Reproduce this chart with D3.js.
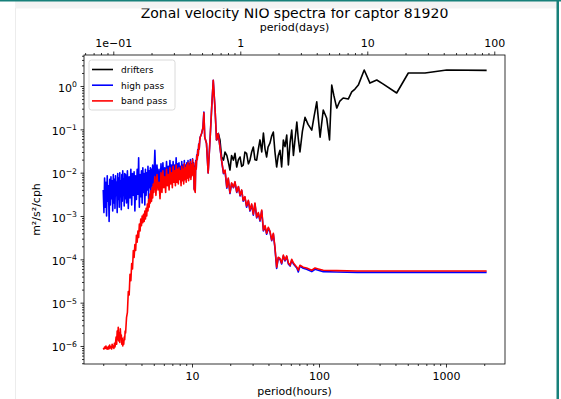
<!DOCTYPE html>
<html>
<head>
<meta charset="utf-8">
<script src="https://cdn.jsdelivr.net/npm/d3@7"></script>
<style>
  body { margin: 0; background: #fff; }
  svg { display: block; font-family: "DejaVu Sans", sans-serif; }
</style>
</head>
<body>
<svg id="chart" width="561" height="399"></svg>
<script>
// spectra (period in hours, PSD in m²/s²/cph)
const filterPeriods = [
  2, 2.025, 2.05, 2.075, 2.1, 2.125, 2.15, 2.175, 2.2, 2.225,
  2.25, 2.275, 2.3, 2.325, 2.35, 2.375, 2.4, 2.425, 2.45, 2.475,
  2.5, 2.525, 2.55, 2.575, 2.6, 2.625, 2.65, 2.675, 2.7, 2.725,
  2.75, 2.775, 2.8, 2.825, 2.85, 2.875, 2.9, 2.925, 2.95, 2.975,
  3, 3.05, 3.1, 3.15, 3.2, 3.25, 3.3, 3.35, 3.4, 3.45,
  3.5, 3.55, 3.6, 3.65, 3.7, 3.75, 3.8, 3.85, 3.9, 3.95,
  4, 4.05, 4.1, 4.15, 4.2, 4.25, 4.3, 4.35, 4.4, 4.45,
  4.5, 4.55, 4.6, 4.65, 4.7, 4.75, 4.8, 4.85, 4.9, 4.95,
  5, 5.1, 5.2, 5.3, 5.4, 5.5, 5.6, 5.7, 5.8, 5.9,
  6, 6.1, 6.2, 6.3, 6.4, 6.5, 6.6, 6.7, 6.8, 6.9,
  7, 7.1, 7.2, 7.3, 7.4, 7.5, 7.6, 7.7, 7.8, 7.9,
  8, 8.1, 8.2, 8.3, 8.4, 8.5, 8.6, 8.7, 8.8, 8.9,
  9, 9.1, 9.2, 9.3, 9.4, 9.5, 9.6, 9.7, 9.8, 9.9,
  10, 10.1, 10.2, 10.3, 10.4, 10.5, 10.6, 10.7, 10.8, 10.9,
  11, 11.1, 11.2, 11.3, 11.4, 11.5,
  11.6, 11.9, 12.2, 12.4, 12.6, 13.0, 13.4, 13.9, 14.3, 14.7,
  15.2, 15.6, 16.1, 16.6, 17.1, 17.7, 18.2, 18.8, 19.3, 19.9,
  20.5, 21.2, 21.8, 22.5, 23.2, 23.9, 24.6, 25.3, 26.1, 26.9,
  27.8, 28.6, 29.5, 30.4, 31.3, 32.3, 33.3, 34.3, 35.4, 36.5,
  37.6, 38.7, 39.9, 41.1, 42.4, 43.7, 45.0, 46.4, 47.8, 49.3,
  50.8, 52.4, 54.0, 55.7, 57.4, 59.2, 61.0, 62.9, 66.9, 68.7,
  70.8, 75.2, 79.9, 87.7, 93.0, 98.7, 108, 138, 200, 400,
  800, 1500, 2090
];

const highPassValues = [
  4e-3, 1.2e-3, 7.5e-3, 1.6e-3, 6e-3, 1.0e-3, 8.5e-3, 2.2e-3, 5e-3, 7.5e-4,
  7e-3, 1.8e-3, 8e-3, 2.5e-3, 6.5e-3, 1.3e-3, 9e-3, 2e-3, 7e-3, 1.5e-3,
  8.5e-3, 3e-3, 6e-3, 1.2e-3, 9.5e-3, 2.4e-3, 7.5e-3, 1.6e-3, 1.0e-2, 2.8e-3,
  6.5e-3, 1.4e-3, 9e-3, 2.2e-3, 1.1e-2, 3e-3, 7e-3, 1.7e-3, 9.5e-3, 2.5e-3,
  9e-3, 2e-3, 1.1e-2, 1.5e-3, 8e-3, 2.6e-3, 1.2e-2, 1.8e-3, 9.5e-3, 3e-3,
  1.05e-2, 1.3e-3, 8.5e-3, 2.4e-3, 1.2e-2, 3.2e-3, 2.2e-2, 1.6e-3, 9e-3, 2.8e-3,
  1.1e-2, 2e-3, 1.3e-2, 3.5e-3, 9.5e-3, 1.8e-3, 1.2e-2, 3e-3, 1.0e-2, 4e-3,
  1.4e-2, 2.5e-3, 1.1e-2, 4.5e-3, 1.3e-2, 3e-3, 1.2e-2, 5e-3, 1.5e-2, 4e-3,
  6e-3, 3.3e-2, 5e-3, 1.5e-2, 6e-3, 1.2e-2, 4e-3, 1.6e-2, 5e-3, 1.7e-2,
  6e-3, 1.3e-2, 5e-3, 1.8e-2, 7e-3, 1.4e-2, 5.5e-3, 1.9e-2, 7e-3, 1.5e-2,
  6e-3, 1.8e-2, 7.5e-3, 1.5e-2, 6e-3, 2.2e-2, 7e-3, 1.6e-2, 6.5e-3, 1.7e-2,
  8e-3, 1.4e-2, 6e-3, 1.8e-2, 7.5e-3, 1.5e-2, 6.5e-3, 1.9e-2, 8e-3, 1.5e-2,
  7e-3, 1.7e-2, 8.5e-3, 1.9e-2, 7.5e-3, 1.6e-2, 9e-3, 2.0e-2, 8e-3, 1.6e-2,
  9e-3, 2.1e-2, 9.5e-3, 1.7e-2, 4.2e-3, 1.4e-2, 3.7e-3, 1.9e-2, 1.25e-2, 2.6e-2,
  2.1e-2, 3.4e-2, 2.6e-2, 4.6e-2, 3.6e-2, 5.6e-2,
  0.066, 0.08, 0.11, 0.25, 0.066, 0.048, 0.0098, 0.066, 0.33, 1.35,
  0.28, 0.057, 0.08, 0.039, 0.019, 0.0095, 0.011, 0.0044, 0.0072, 0.0033,
  0.0056, 0.0045, 0.006, 0.0035, 0.0047, 0.0029, 0.0039, 0.0022, 0.0027, 0.0016,
  0.0022, 0.0013, 0.0018, 0.00105, 0.0019, 0.0009, 0.00115, 0.00076, 0.0013, 0.00045,
  0.00057, 0.00038, 0.00052, 0.00043, 0.00027, 0.00038, 0.00018, 6.2e-5, 1.08e-4, 1.0e-4,
  7.8e-5, 1.2e-4, 9.2e-5, 1.15e-4, 7.8e-5, 7.0e-5, 9.5e-5, 7.8e-5, 6.3e-5, 5.1e-5,
  7.0e-5, 6.2e-5, 5.9e-5, 5.2e-5, 5.9e-5, 5.6e-5, 5.2e-5, 5.1e-5, 5.0e-5, 5.0e-5,
  5.0e-5, 5.0e-5, 5.0e-5
];

const bandPassValues = [
  9e-7, 8.5e-7, 9.5e-7, 8.8e-7, 1.0e-6, 8.6e-7, 9.2e-7, 8.4e-7, 9.8e-7, 8.7e-7,
  1.05e-6, 9e-7, 9.6e-7, 8.5e-7, 1.1e-6, 9.2e-7, 1.0e-6, 8.8e-7, 1.15e-6, 9.5e-7,
  1.2e-6, 1.6e-6, 1.1e-6, 2.2e-6, 1.4e-6, 2.7e-6, 1.3e-6, 2.0e-6, 1.2e-6, 2.5e-6,
  1.5e-6, 1.8e-6, 1.1e-6, 1.5e-6, 1.0e-6, 1.3e-6, 1.1e-6, 1.6e-6, 1.4e-6, 2.2e-6,
  2.0e-6, 4.5e-6, 6e-6, 1.8e-5, 1.5e-5, 4.5e-5, 3.2e-5, 8e-5, 6e-5, 1.6e-4,
  1.1e-4, 2.2e-4, 1.6e-4, 3.6e-4, 2.5e-4, 4.5e-4, 3.2e-4, 6.5e-4, 4.5e-4, 8.5e-4,
  6e-4, 1.0e-3, 7e-4, 1.1e-3, 7.5e-4, 1.3e-3, 8.5e-4, 1.5e-3, 1.0e-3, 1.9e-3,
  1.3e-3, 2.4e-3, 1.6e-3, 3.2e-3, 2.0e-3, 3.8e-3, 2.2e-3, 4.5e-3, 2.6e-3, 5.5e-3,
  3.5e-3, 8e-3, 3e-3, 9e-3, 4e-3, 6e-3, 2.5e-3, 1.0e-2, 3.5e-3, 1.1e-2,
  4.5e-3, 8e-3, 3.5e-3, 1.2e-2, 5e-3, 9e-3, 4e-3, 1.3e-2, 5.5e-3, 1.0e-2,
  4.5e-3, 1.4e-2, 6e-3, 1.1e-2, 5e-3, 1.5e-2, 6e-3, 1.2e-2, 5.5e-3, 1.3e-2,
  7e-3, 1.1e-2, 5e-3, 1.4e-2, 6.5e-3, 1.2e-2, 5.5e-3, 1.6e-2, 7e-3, 1.3e-2,
  6e-3, 1.5e-2, 7.5e-3, 1.7e-2, 6.5e-3, 1.4e-2, 8e-3, 1.8e-2, 7e-3, 1.5e-2,
  8.5e-3, 2.0e-2, 9e-3, 1.6e-2, 4e-3, 1.3e-2, 3.5e-3, 1.8e-2, 1.2e-2, 2.5e-2,
  2.0e-2, 3.3e-2, 2.5e-2, 4.5e-2, 3.5e-2, 5.5e-2,
  0.066, 0.08, 0.11, 0.24, 0.066, 0.048, 0.0098, 0.066, 0.33, 1.35,
  0.28, 0.057, 0.08, 0.039, 0.0195, 0.0098, 0.0115, 0.0046, 0.0075, 0.0034,
  0.0058, 0.0046, 0.0062, 0.0036, 0.0048, 0.0030, 0.0040, 0.0023, 0.0028, 0.0017,
  0.0023, 0.00137, 0.0019, 0.0011, 0.0020, 0.00094, 0.0012, 0.0008, 0.00137, 0.00047,
  0.0006, 0.0004, 0.00055, 0.00045, 0.00028, 0.0004, 0.00019, 6.6e-5, 1.12e-4, 1.05e-4,
  8.2e-5, 1.25e-4, 9.6e-5, 1.2e-4, 8.2e-5, 7.3e-5, 1.0e-4, 8.2e-5, 6.6e-5, 5.6e-5,
  7.3e-5, 6.6e-5, 6.3e-5, 5.6e-5, 6.3e-5, 6.0e-5, 5.6e-5, 5.5e-5, 5.4e-5, 5.4e-5,
  5.4e-5, 5.4e-5, 5.4e-5
];

const drifterPeriods = [
  15.6, 16.1, 16.6, 17.1, 17.7, 18.2, 18.8, 19.3, 19.9, 20.5,
  21.2, 21.8, 22.5, 23.2, 23.9, 24.6, 25.3, 26.1, 26.9, 27.8,
  28.6, 29.5, 30.4, 31.3, 32.3, 33.3, 34.3, 35.4, 36.5, 37.6,
  38.7, 39.7, 41.1, 42.4, 43.7, 45.0, 46.4, 47.8, 49.3, 50.8,
  52.4, 54.0, 55.7, 57.4, 59.2, 61.0, 62.9, 64.8, 66.9, 68.7,
  70.8, 74.0, 77.6, 82.0, 87.7, 91.5, 96.0, 102, 108, 115,
  121, 126, 131, 138, 146, 155, 170, 181, 192, 204,
  227, 252, 285, 321, 409, 505, 684, 1013, 2090
];

const drifterValues = [
  0.057, 0.08, 0.057, 0.023, 0.0195, 0.03, 0.025, 0.018, 0.0115, 0.025,
  0.0195, 0.028, 0.0135, 0.02, 0.023, 0.014, 0.015, 0.03, 0.028, 0.016,
  0.0195, 0.03, 0.039, 0.02, 0.0195, 0.035, 0.057, 0.03, 0.082, 0.035,
  0.023, 0.039, 0.048, 0.07, 0.087, 0.03, 0.0135, 0.025, 0.033, 0.0135,
  0.057, 0.04, 0.074, 0.015, 0.05, 0.096, 0.025, 0.06, 0.148, 0.06,
  0.030, 0.09, 0.19, 0.13, 0.096, 0.2, 0.43, 0.066, 0.28, 0.18,
  0.057, 1.05, 0.6, 0.31, 0.45, 0.53, 0.50, 0.73, 0.85, 1.05,
  2.34, 1.17, 1.38, 1.11, 0.69, 2.0, 2.0, 2.34, 2.3
];

const seriesNames = ["drifters", "high pass", "band pass"];
const seriesColors = ["#000000", "#0000ff", "#ff0000"];

const hourTicks = [10, 100, 1000];
const dayTicks = [0.1, 1, 10, 100];
const dayTickLabels = ["1e\u221201", "1", "10", "100"];
const powerTicks = [0, -1, -2, -3, -4, -5, -6];

const svg = d3.select("#chart"),
      width = 561,
      height = 399;
const plot = { left: 84, right: 505, top: 55, bottom: 364 };

const x = d3.scaleLog().domain([1.411, 2915]).range([plot.left, plot.right]);
const xDays = d3.scaleLog().domain([1.411 / 24, 2915 / 24]).range([plot.left, plot.right]);
const y = d3.scaleLog().domain([3.84e-7, 5.2]).range([plot.bottom, plot.top]);

const isMinor = v => Math.abs(Math.log10(v) - Math.round(Math.log10(v))) > 1e-6;

svg.append("rect").attr("width", width).attr("height", height).attr("fill", "#fff");

svg.append("clipPath").attr("id", "clip")
  .append("rect")
  .attr("x", plot.left).attr("y", plot.top)
  .attr("width", plot.right - plot.left).attr("height", plot.bottom - plot.top);

const series = [
  drifterPeriods.map((p, i) => [p, drifterValues[i]]),
  filterPeriods.map((p, i) => [p, highPassValues[i]]),
  filterPeriods.map((p, i) => [p, bandPassValues[i]])
];

const line = d3.line().x(d => x(d[0])).y(d => y(d[1]));

svg.append("g").attr("clip-path", "url(#clip)")
  .selectAll("path")
  .data(series)
  .enter()
  .append("path")
  .attr("d", line)
  .attr("fill", "none")
  .attr("stroke", (d, i) => seriesColors[i])
  .attr("stroke-width", 1.6)
  .attr("stroke-linejoin", "round");

// axes
const styleAxis = g => {
  g.select(".domain").remove();
  g.selectAll("line").attr("stroke", "#000").attr("stroke-width", 0.8);
  g.attr("font-family", "DejaVu Sans, sans-serif").attr("font-size", 11);
  g.selectAll("text").attr("fill", "#000");
};

svg.append("g")
  .attr("transform", `translate(0,${plot.bottom})`)
  .call(d3.axisBottom(x).tickValues(x.ticks(30).filter(isMinor)).tickSize(2).tickFormat(""))
  .call(styleAxis);
svg.append("g")
  .attr("transform", `translate(0,${plot.bottom})`)
  .call(d3.axisBottom(x).tickValues(hourTicks).tickSize(3.5).tickPadding(5).tickFormat(d3.format("d")))
  .call(styleAxis);

svg.append("g")
  .attr("transform", `translate(0,${plot.top})`)
  .call(d3.axisTop(xDays).tickValues(xDays.ticks(30).filter(isMinor)).tickSize(2).tickFormat(""))
  .call(styleAxis);
svg.append("g")
  .attr("transform", `translate(0,${plot.top})`)
  .call(d3.axisTop(xDays).tickValues(dayTicks).tickSize(3.5).tickPadding(5)
    .tickFormat((d, i) => dayTickLabels[i]))
  .call(styleAxis);

svg.append("g")
  .attr("transform", `translate(${plot.left},0)`)
  .call(d3.axisLeft(y).tickValues(y.ticks(30).filter(isMinor)).tickSize(2).tickFormat(""))
  .call(styleAxis);
const yMajor = svg.append("g")
  .attr("transform", `translate(${plot.left},0)`)
  .call(d3.axisLeft(y).tickValues(powerTicks.map(p => Math.pow(10, p))).tickSize(3.5).tickFormat(""))
  .call(styleAxis);

yMajor.selectAll(".tick").each(function(d, i) {
  const t = d3.select(this).append("text")
    .attr("x", -7)
    .attr("y", 5)
    .attr("text-anchor", "end")
    .attr("fill", "#000")
    .text("10");
  t.append("tspan")
    .attr("dy", -4.5)
    .attr("font-size", 7.7)
    .text(powerTicks[i] === 0 ? "0" : "\u2212" + Math.abs(powerTicks[i]));
});

// frame
svg.append("rect")
  .attr("x", plot.left).attr("y", plot.top)
  .attr("width", plot.right - plot.left).attr("height", plot.bottom - plot.top)
  .attr("fill", "none").attr("stroke", "#000").attr("stroke-width", 0.8);

// labels
svg.append("text")
  .attr("x", (plot.left + plot.right) / 2).attr("y", 395)
  .attr("text-anchor", "middle").attr("font-size", 11)
  .text("period(hours)");
svg.append("text")
  .attr("x", (plot.left + plot.right) / 2).attr("y", 31)
  .attr("text-anchor", "middle").attr("font-size", 11)
  .text("period(days)");
svg.append("text")
  .attr("x", (plot.left + plot.right) / 2).attr("y", 17.5)
  .attr("text-anchor", "middle").attr("font-size", 14)
  .text("Zonal velocity NIO spectra for captor 81920");
svg.append("text")
  .attr("transform", `translate(40,${(plot.top + plot.bottom) / 2}) rotate(-90)`)
  .attr("text-anchor", "middle").attr("font-size", 11)
  .text("m²/s²/cph");

// legend
const legend = svg.append("g").attr("transform", "translate(89,60)");
legend.append("rect")
  .attr("width", 86).attr("height", 50).attr("rx", 2.5)
  .attr("fill", "#fff").attr("fill-opacity", 0.8)
  .attr("stroke", "#d0d0d0").attr("stroke-width", 0.8);
const entry = legend.selectAll(".entry")
  .data(seriesNames)
  .enter()
  .append("g")
  .attr("class", "entry")
  .attr("transform", (d, i) => `translate(0,${9.5 + i * 15.7})`);
entry.append("line")
  .attr("x1", 3).attr("x2", 24)
  .attr("stroke", (d, i) => seriesColors[i])
  .attr("stroke-width", 1.6);
entry.append("text")
  .attr("x", 32).attr("y", 3.3)
  .attr("font-size", 9)
  .text(d => d);

// page chrome around the figure
svg.append("rect").attr("x", 15).attr("y", 1).attr("width", 542).attr("height", 7.5).attr("fill", "#f3f3f3");
svg.append("rect").attr("x", 0).attr("y", 0).attr("width", width).attr("height", 1.5).attr("fill", "#17807a");
svg.append("rect").attr("x", 556.5).attr("y", 0).attr("width", 2.5).attr("height", height).attr("fill", "#17807a");
svg.append("line").attr("x1", 15.5).attr("x2", 15.5).attr("y1", 8).attr("y2", height)
  .attr("stroke", "#ececec").attr("stroke-width", 1);
</script>
</body>
</html>
